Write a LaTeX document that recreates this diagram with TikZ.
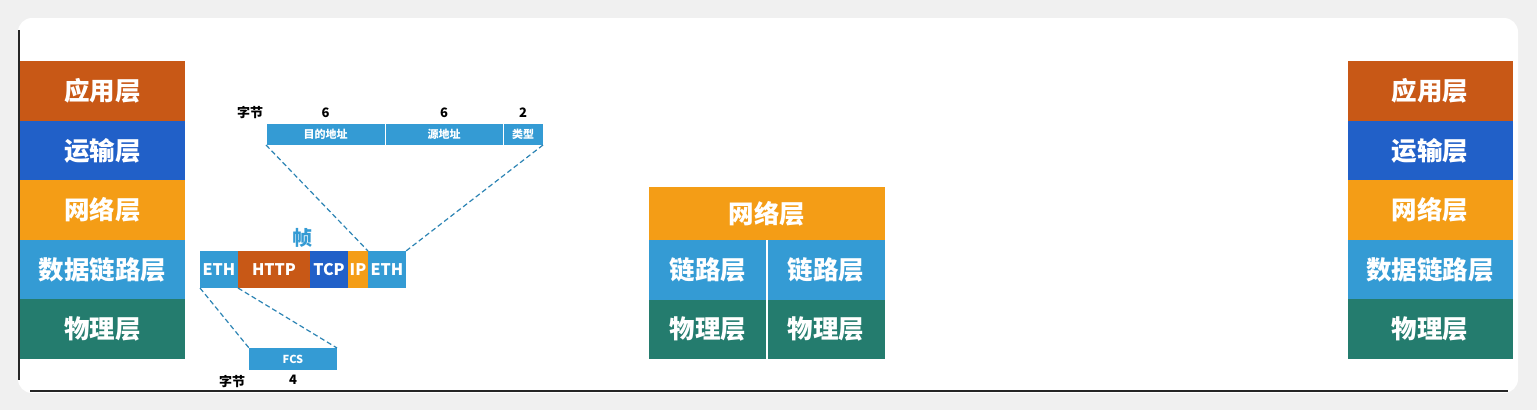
\documentclass[tikz,border=0pt]{standalone}
\usepackage{fontspec}
\setmainfont{Noto Sans CJK SC}
\usetikzlibrary{positioning}

\definecolor{appc}{RGB}{200,88,22}
\definecolor{tranc}{RGB}{33,96,200}
\definecolor{netc}{RGB}{244,157,22}
\definecolor{linkc}{RGB}{52,155,212}
\definecolor{phyc}{RGB}{36,124,110}

\begin{document}
\begin{tikzpicture}[
        x=1pt, y=-1pt,
        node distance=0pt,
        layer/.style={rectangle, text=white, inner sep=0pt, outer sep=0pt, minimum width=165pt, minimum height=59.5pt, font=\fontsize{25.5}{25.5}\selectfont\bfseries},
        cell/.style={rectangle, text=white, inner sep=0pt, outer sep=0pt, minimum height=37pt, font=\fontsize{16}{16}\selectfont\bfseries},
        hdr/.style={rectangle, fill=linkc, draw=white, line width=0.8pt, text=white, inner sep=0pt, outer sep=0pt, minimum height=22pt, font=\fontsize{11}{11}\selectfont\bfseries},
        lbl/.style={inner sep=0pt, font=\fontsize{13}{13}\selectfont\bfseries},
        dashline/.style={linkc!85!black, dashed, dash pattern=on 5pt off 3pt, line width=1.2pt}
    ]

    % card
    \useasboundingbox (0,0) rectangle (1537,410);
    \fill[black!6] (0,0) rectangle (1537,410);
    \fill[white, rounded corners=14pt] (18,18) rectangle (1518,393);
    \draw[black!85, line width=1.2pt] (19,30) -- (19,380);
    \draw[black!85, line width=1.2pt] (30,391) -- (1508,391);

    % Left: five layers
    \node[layer, fill=appc] (app) at (102.5,91) {应用层};
    \node[layer, fill=tranc, below=of app] (tran) {运输层};
    \node[layer, fill=netc, below=of tran] (net) {网络层};
    \node[layer, fill=linkc, below=of net] (link) {数据链路层};
    \node[layer, fill=phyc, below=of link] (phy) {物理层};

    % Right: five layers
    \node[layer, fill=appc] (rapp) at (1430,91) {应用层};
    \node[layer, fill=tranc, below=of rapp] (rtran) {运输层};
    \node[layer, fill=netc, below=of rtran] (rnet) {网络层};
    \node[layer, fill=linkc, below=of rnet] (rlink) {数据链路层};
    \node[layer, fill=phyc, below=of rlink] (rphy) {物理层};

    % Middle: router
    \node[layer, fill=netc, minimum width=236pt, minimum height=53pt] (mnet) at (767,213.5) {网络层};
    \node[layer, fill=linkc, minimum width=118pt, below right=of mnet.south west] (mlinka) {链路层};
    \node[layer, fill=linkc, minimum width=118pt, below left=of mnet.south east] (mlinkb) {链路层};
    \node[layer, fill=phyc, minimum width=118pt, below=of mlinka] (mphya) {物理层};
    \node[layer, fill=phyc, minimum width=118pt, below=of mlinkb] (mphyb) {物理层};
    \draw[white, line width=1.5pt] (mlinka.north east) -- (mphya.south east);

    % Frame
    \node[cell, fill=linkc, minimum width=38pt, anchor=west] (eth1) at (200,269.5) {ETH};
    \node[cell, fill=appc, minimum width=72pt, right=of eth1] (http) {HTTP};
    \node[cell, fill=tranc, minimum width=38pt, right=of http] (tcp) {TCP};
    \node[cell, fill=netc, minimum width=20pt, right=of tcp] (ip) {IP};
    \node[cell, fill=linkc, minimum width=38pt, right=of ip] (eth2) {ETH};
    \node[text=linkc, font=\fontsize{20}{20}\selectfont\bfseries] (frame) at (302,238) {帧};

    % Header fields
    \node[hdr, minimum width=119pt, anchor=north west] (dst) at (266,123) {目的地址};
    \node[hdr, minimum width=118pt, right=of dst] (src) {源地址};
    \node[hdr, minimum width=40pt, right=of src] (typ) {类型};
    \node[lbl, above=5pt of dst] (ndst) {6};
    \node[lbl, above=5pt of src] (nsrc) {6};
    \node[lbl, above=5pt of typ] (ntyp) {2};
    \node[lbl] (bytetop) at (250,112) {字节};

    % FCS
    \node[hdr, draw=none, minimum width=88pt, anchor=north west] (fcs) at (249,348) {FCS};
    \node[lbl, below=5pt of fcs] (nfcs) {4};
    \node[lbl] (bytebot) at (232,381) {字节};

    % Dashed guides
    \draw[dashline] (dst.south west) -- (eth2.north west);
    \draw[dashline] (typ.south east) -- (eth2.north east);
    \draw[dashline] (eth1.south west) -- (fcs.north west);
    \draw[dashline] (eth1.south east) -- (fcs.north east);

\end{tikzpicture}
\end{document}
